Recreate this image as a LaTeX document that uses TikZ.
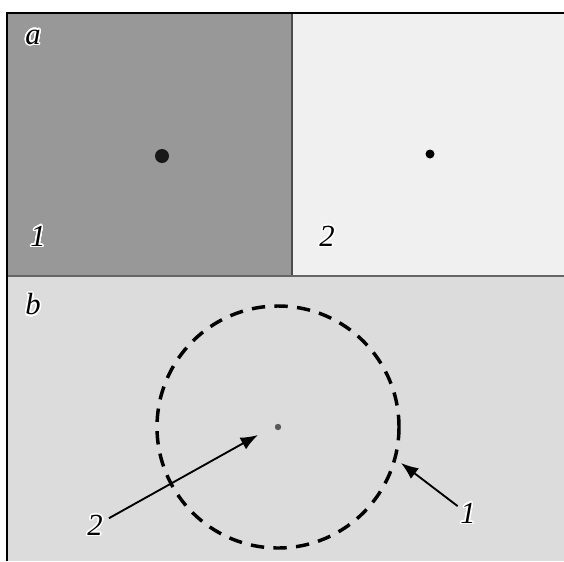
\documentclass[tikz,border=0pt]{standalone}
\usepackage{fontspec}
\setmainfont{Liberation Serif}
\usepackage{contour}
\usetikzlibrary{arrows.meta}
\contourlength{1.1pt}
\contournumber{24}
\definecolor{paneldark}{HTML}{989898}
\definecolor{panellight}{HTML}{F0F0F0}
\definecolor{panelbottom}{HTML}{DCDCDC}
\tikzset{
  lbl/.style={font=\fontsize{23}{23}\selectfont\itshape, inner sep=1pt},
  arr/.style={line width=1.4pt, -{Latex[length=13pt,width=10pt]}},
  ring/.style={line width=2.6pt, dash pattern=on 10pt off 7pt}
}
\begin{document}
\begin{tikzpicture}[x=0.75pt,y=-0.75pt]
\useasboundingbox (0,0) rectangle (564,561);

% Draw the panels
\fill[white] (0,0) rectangle (564,561);
\fill[paneldark] (7,13) rectangle (292,276);
\fill[panellight] (292,13) rectangle (564,276);
\fill[panelbottom] (7,276) rectangle (564,561);

% Draw the frame and the dividers
\draw[line width=1.3pt,black!70] (292,13) -- (292,276);
\draw[line width=1.3pt,black!60] (7,276) -- (564,276);
\draw[line width=1.8pt] (7,561) -- (7,13) -- (564,13);

% Dots
\fill[black!90] (162,156) circle (7);
\fill[black] (430,154) circle (4.5);
\fill[black!65] (278,427) circle (3.2);

% Labels of the panels
\node[lbl] (labA) at (33,38) {\contour{white}{a}};
\node[lbl] (labA1) at (38,237) {\contour{white}{1}};
\node[lbl] (labA2) at (327,237) {\contour{white}{2}};
\node[lbl] (labB) at (33,305) {\contour{white}{b}};

% Dashed circle
\draw[ring] (278,427) circle (121);

% Arrows
\coordinate (tip1) at (401,463);
\coordinate (tip2) at (258,435);
\node[lbl] (labB1) at (468,514) {\contour{white}{1}};
\node[lbl] (labB2) at (95,526) {\contour{white}{2}};
\draw[arr,shorten <=1pt] (labB1) -- (tip1);
\draw[arr,shorten <=4pt] (labB2) -- (tip2);

\end{tikzpicture}
\end{document}
